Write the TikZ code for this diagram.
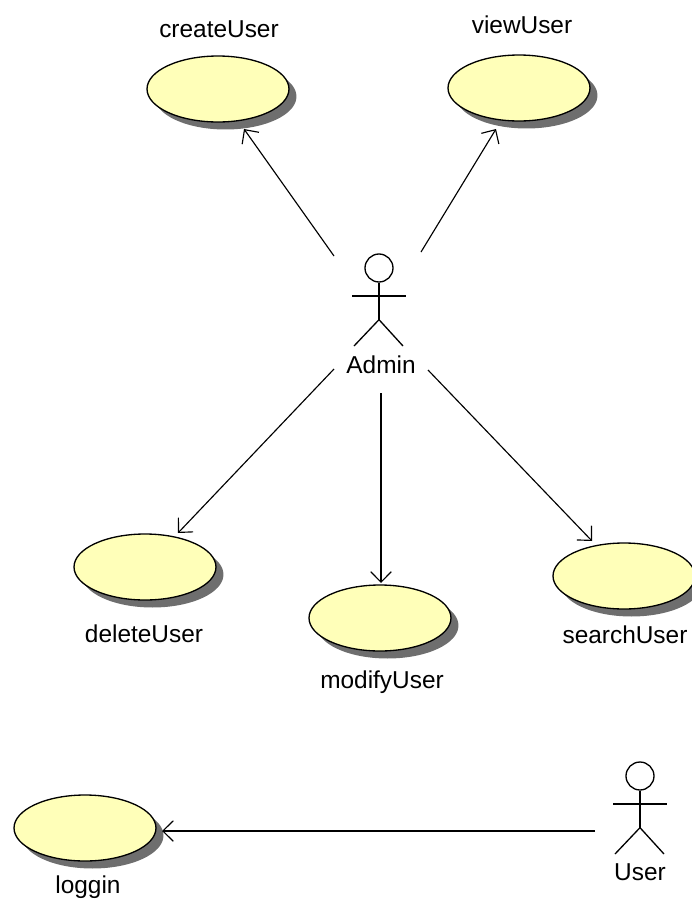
\documentclass[tikz,border=0pt]{standalone}
\usepackage{fontspec}
\setmainfont{Liberation Sans}
\usetikzlibrary{shapes.geometric,shadows,arrows.meta}
\definecolor{usecasefill}{HTML}{FFFFB9}
\definecolor{usecaseshadow}{HTML}{6E6E6E}
\tikzset{
    usecase/.style={ellipse,draw=black,line width=0.75pt,fill=usecasefill,inner sep=0pt,
        minimum width=2.84cm,minimum height=1.32cm,
        drop shadow={shadow xshift=0.15cm,shadow yshift=-0.15cm,fill=usecaseshadow,opacity=1}},
    actorhead/.style={circle,draw=black,line width=0.75pt,fill=white,inner sep=0pt,minimum size=0.56cm},
    actorline/.style={line width=0.75pt},
    lbl/.style={inner sep=0pt,font=\fontsize{13.9}{16}\selectfont},
    assoc/.style={->,line width=0.65pt}
}
\begin{document}
\begin{tikzpicture}[x=0.02cm,y=-0.02cm,>={Straight Barb[length=2.1mm,width=4.1mm]}]
\useasboundingbox (0,0) rectangle (691,900);

\foreach \name/\x/\y/\lx/\ly in {createUser/218/89/219/29, viewUser/519/88/522/25, deleteUser/145/567/144/634, modifyUser/380/618/382/682, searchUser/624/576/625/635, loggin/85/828/88/887}
{
    \node[usecase] (\name) at (\x,\y){};
    \node[lbl] (\name Label) at (\lx,\ly){\name};
}

\foreach \actor/\x/\y in {Admin/379/268, User/640/776}
{
    \node[actorhead] (\actor Head) at (\x,\y){};
    \draw[actorline] (\actor Head.south) -- ++(0,37) coordinate (\actor Hip);
    \draw[actorline] ([shift={(-27,28)}]\actor Head.center) -- ++(54,0);
    \draw[actorline] ([shift={(-25,78)}]\actor Head.center) -- (\actor Hip) -- ([shift={(24,78)}]\actor Head.center);
}
\node[lbl] (AdminLabel) at (381,365){Admin};
\node[lbl] (UserLabel) at (640,872){User};

\coordinate (adminA) at (334,256);
\coordinate (adminB) at (421,252);
\coordinate (adminC) at (334,369);
\coordinate (adminD) at (381,393);
\coordinate (adminE) at (428,370);
\coordinate (userA) at (595,831);

\coordinate (createTip) at ([shift={(26,40)}]createUser.center);
\coordinate (viewTip) at ([shift={(-23,41)}]viewUser.center);
\coordinate (deleteTip) at ([shift={(33,-34)}]deleteUser.center);
\coordinate (modifyTip) at ([shift={(1,-35)}]modifyUser.center);
\coordinate (searchTip) at ([shift={(-32,-35)}]searchUser.center);
\coordinate (logginTip) at ([shift={(77,3)}]loggin.center);

\draw[assoc] (adminA) -- (createTip);
\draw[assoc] (adminB) -- (viewTip);
\draw[assoc] (adminC) -- (deleteTip);
\draw[assoc] (adminD) -- (modifyTip);
\draw[assoc] (adminE) -- (searchTip);
\draw[assoc] (userA) -- (logginTip);
\end{tikzpicture}
\end{document}
